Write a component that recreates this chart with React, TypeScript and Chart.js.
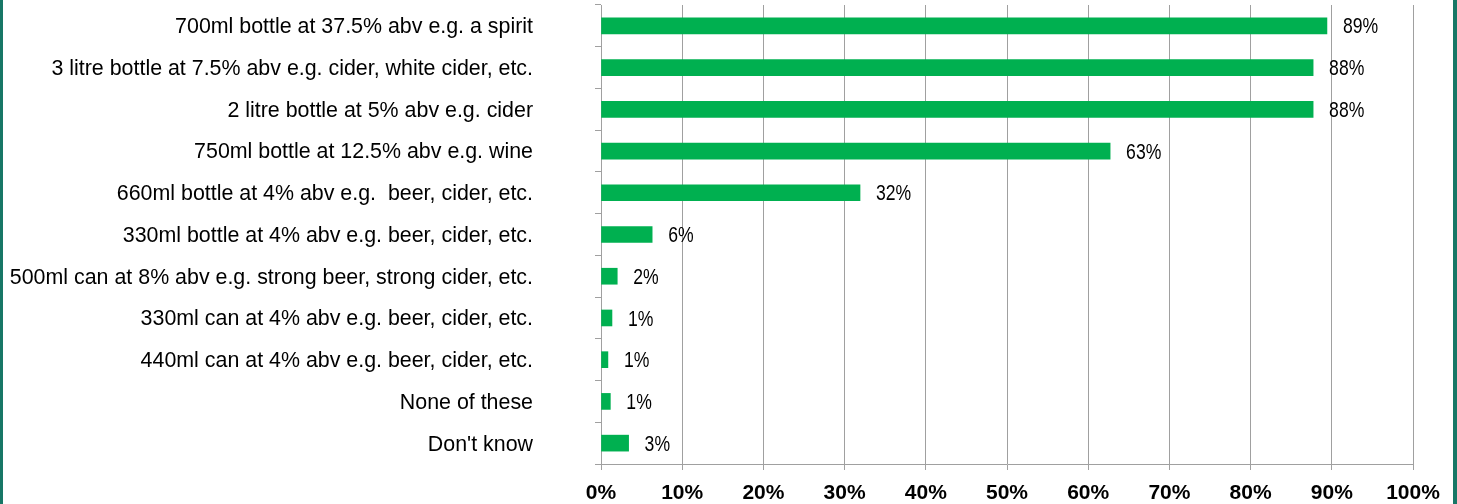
import { useEffect, useRef } from "react";
import { Chart, registerables } from "chart.js";

Chart.register(...registerables);

const categories = [
  "700ml bottle at 37.5% abv e.g. a spirit",
  "3 litre bottle at 7.5% abv e.g. cider, white cider, etc.",
  "2 litre bottle at 5% abv e.g. cider",
  "750ml bottle at 12.5% abv e.g. wine",
  "660ml bottle at 4% abv e.g.  beer, cider, etc.",
  "330ml bottle at 4% abv e.g. beer, cider, etc.",
  "500ml can at 8% abv e.g. strong beer, strong cider, etc.",
  "330ml can at 4% abv e.g. beer, cider, etc.",
  "440ml can at 4% abv e.g. beer, cider, etc.",
  "None of these",
  "Don't know",
];

const values = [89.4, 87.7, 87.7, 62.7, 31.9, 6.3, 2.0, 1.35, 0.85, 1.15, 3.4];

const valueLabels = ["89%", "88%", "88%", "63%", "32%", "6%", "2%", "1%", "1%", "1%", "3%"];

const xTickLabels = ["0%", "10%", "20%", "30%", "40%", "50%", "60%", "70%", "80%", "90%", "100%"];

const ARIAL = "'Liberation Sans', Arial, Helvetica, sans-serif";

const valueLabelPlugin = {
  id: "valueLabels",
  afterDatasetsDraw(chart: any) {
    const ctx = chart.ctx;
    const meta = chart.getDatasetMeta(0);
    ctx.save();
    ctx.font = `22px ${ARIAL}`;
    ctx.fillStyle = "#000";
    ctx.textAlign = "left";
    ctx.textBaseline = "middle";
    meta.data.forEach((bar: any, i: number) => {
      ctx.save();
      ctx.translate(bar.x + 16, bar.y + 1.5);
      ctx.scale(0.8, 1);
      ctx.fillText(valueLabels[i], 0, 0);
      ctx.restore();
    });
    ctx.restore();
  },
};

export default function App() {
  const ref = useRef<HTMLCanvasElement>(null);

  useEffect(() => {
    const chart = new Chart(ref.current as HTMLCanvasElement, {
      type: "bar",
      data: {
        labels: categories,
        datasets: [
          {
            data: values,
            backgroundColor: "#00b050",
            barThickness: 16,
          },
        ],
      },
      options: {
        indexAxis: "y",
        responsive: false,
        animation: false,
        layout: { padding: { top: 5, right: 44, left: 0, bottom: 0 } },
        plugins: {
          legend: { display: false },
          tooltip: { enabled: false },
        },
        scales: {
          x: {
            min: 0,
            max: 100,
            ticks: {
              stepSize: 10,
              autoSkip: false,
              maxRotation: 0,
              padding: 11,
              color: "#000",
              font: { family: ARIAL, size: 21, weight: "bold" },
              callback: (_v: any, i: number) => xTickLabels[i],
            },
            grid: { color: "#a0a0a0", tickLength: 6 },
            border: { color: "#a0a0a0" },
            afterFit: (s: any) => {
              s.height = 40;
            },
          },
          y: {
            grid: { drawOnChartArea: false, tickLength: 6, color: "#a0a0a0" },
            border: { color: "#a0a0a0" },
            ticks: {
              autoSkip: false,
              padding: 62,
              labelOffset: 1.5,
              color: "#000",
              font: { family: ARIAL, size: 21.4 },
            },
            afterFit: (s: any) => {
              s.width = 601;
              s.paddingTop = 0;
              s.paddingBottom = 0;
            },
          },
        },
      } as any,
      plugins: [valueLabelPlugin],
    });
    return () => chart.destroy();
  }, []);

  return (
    <div style={{ position: "absolute", left: 0, top: 0, width: 1457, height: 504, background: "#fff" }}>
      <canvas ref={ref} width={1457} height={504} style={{ display: "block" }} />
      <div style={{ position: "absolute", left: 0, top: 0, width: 3, height: 504, background: "#177766" }} />
      <div style={{ position: "absolute", left: 1453, top: 0, width: 4, height: 504, background: "#177766" }} />
    </div>
  );
}
